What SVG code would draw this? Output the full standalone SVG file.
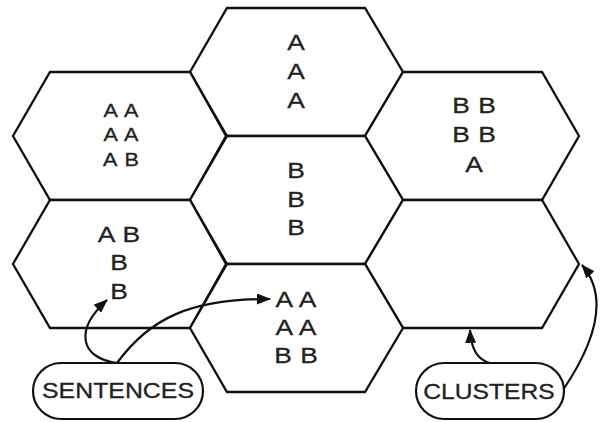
<svg xmlns="http://www.w3.org/2000/svg" width="602" height="422" viewBox="0 0 602 422">
<defs>
<style>
.hex{fill:#fff;stroke:#111;stroke-width:2.3;stroke-linejoin:miter}
.t{font-family:"Liberation Sans",Arial,sans-serif;font-size:22px;fill:#222;stroke:#222;stroke-width:0.3;text-anchor:middle;word-spacing:1px}
.s{font-family:"Liberation Sans",Arial,sans-serif;font-size:18px;fill:#222;stroke:#222;stroke-width:0.3;text-anchor:middle;word-spacing:2px}
.pill{fill:#fff;stroke:#111;stroke-width:2.2}
.c{fill:none;stroke:#111;stroke-width:2.2}
</style>
<marker id="ah" viewBox="0 0 14 11" refX="13" refY="5.5" markerWidth="14" markerHeight="11" markerUnits="userSpaceOnUse" orient="auto">
<path d="M0,0 L14,5.5 L0,11 Z" fill="#111"/>
</marker>
</defs>
<rect width="602" height="422" fill="#fff"/>
<g id="hex-top">
<polygon class="hex" points="227,8 365,8 403,72 365,136 227,136 190,72"/>
<text class="t" transform="translate(296,50) scale(1.2,1)">A</text>
<text class="t" transform="translate(296,79) scale(1.2,1)">A</text>
<text class="t" transform="translate(296,108) scale(1.2,1)">A</text>
</g>
<g id="hex-upper-left">
<polygon class="hex" points="50,72 190,72 226,136 190,200 50,200 13,136"/>
<text class="s" transform="translate(121,117) scale(1.2,1)">A A</text>
<text class="s" transform="translate(121,141) scale(1.2,1)">A A</text>
<text class="s" transform="translate(121,166) scale(1.2,1)">A B</text>
</g>
<g id="hex-upper-right">
<polygon class="hex" points="403,72 542,72 579,136 542,200 403,200 365,136"/>
<text class="t" transform="translate(474,113) scale(1.2,1)">B B</text>
<text class="t" transform="translate(474,142) scale(1.2,1)">B B</text>
<text class="t" transform="translate(474,172) scale(1.2,1)">A</text>
</g>
<g id="hex-center">
<polygon class="hex" points="227,136 365,136 403,200 365,264 227,264 190,200"/>
<text class="t" transform="translate(296,178) scale(1.2,1)">B</text>
<text class="t" transform="translate(296,207) scale(1.2,1)">B</text>
<text class="t" transform="translate(296,235) scale(1.2,1)">B</text>
</g>
<g id="hex-lower-left">
<polygon class="hex" points="50,200 190,200 226,264 190,328 50,328 13,264"/>
<text class="t" transform="translate(119,242) scale(1.2,1)">A B</text>
<text class="t" transform="translate(119,270) scale(1.2,1)">B</text>
<text class="t" transform="translate(119,299) scale(1.2,1)">B</text>
</g>
<g id="hex-lower-right">
<polygon class="hex" points="403,200 542,200 579,264 542,328 403,328 365,264"/>
</g>
<g id="hex-bottom">
<polygon class="hex" points="227,264 365,264 403,328 365,392 227,392 190,328"/>
<text class="t" transform="translate(296,307) scale(1.2,1)">A A</text>
<text class="t" transform="translate(296,335) scale(1.2,1)">A A</text>
<text class="t" transform="translate(296,363) scale(1.2,1)">B B</text>
</g>
<g id="connectors">
<path class="c" d="M117,363 C80,358 74,330 107,300" marker-end="url(#ah)"/>
<path class="c" d="M117,363 C150,318 190,299 270,299" marker-end="url(#ah)"/>
<path class="c" d="M490,363 C478,360 471,350 470,330" marker-end="url(#ah)"/>
<path class="c" d="M563,390 C590,350 612,300 582,265" marker-end="url(#ah)"/>
</g>
<g id="sentences">
<rect class="pill" x="33" y="363" width="170" height="56" rx="28"/>
<text class="t" transform="translate(118,398) scale(1.13,1)">SENTENCES</text>
</g>
<g id="clusters">
<rect class="pill" x="416" y="363" width="148" height="56" rx="28"/>
<text class="t" transform="translate(489,399) scale(1.12,1)">CLUSTERS</text>
</g>
</svg>
